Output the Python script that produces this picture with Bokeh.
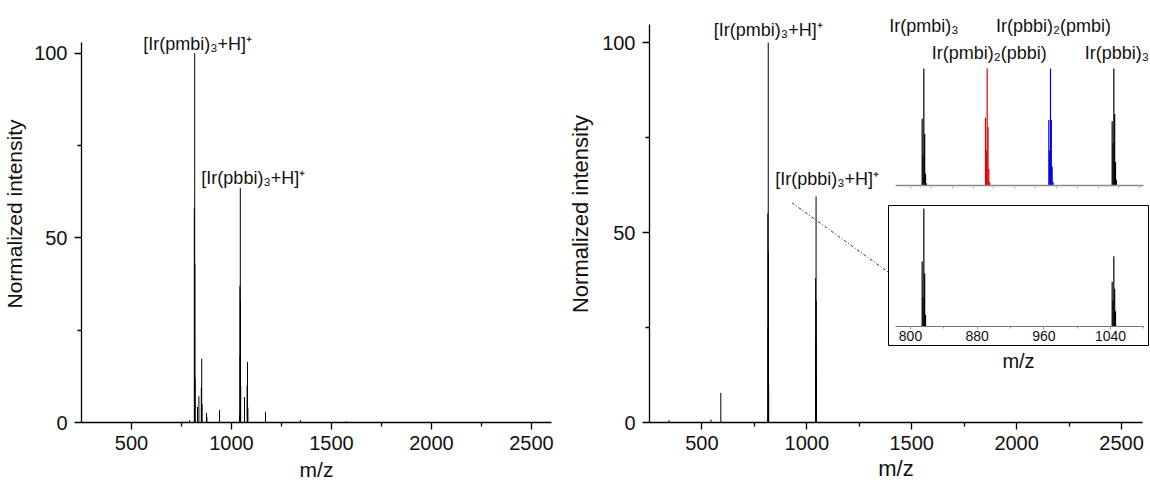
from bokeh.plotting import figure
from bokeh.models import Label, FixedTicker, Range1d, ColumnDataSource, LinearAxis
from bokeh.layouts import row
from bokeh.embed import file_html
from bokeh.resources import INLINE

FONT = "Liberation Sans"

# ---------------- data ----------------
# left spectrum (m/z, normalized intensity)
left_mz = [753, 790, 814, 815, 816, 817, 818, 830, 837, 849, 851, 853, 875, 877,
           940, 1040, 1042, 1043, 1044, 1045, 1046, 1065, 1078, 1080, 1082, 1170, 1345, 1573]
left_int = [0.3, 0.6, 58, 25, 100, 43, 12, 4.2, 7.1, 9.5, 17.3, 5, 2.6, 1.5,
            3.4, 2, 37, 18, 63.5, 33, 10, 6.9, 10, 16.4, 4, 2.9, 0.6, 0.3]

# right spectrum (also shown in the lower inset)
right_mz = [343, 543, 590, 814, 815, 816, 817, 818, 1042, 1043, 1044, 1045, 1046]
right_int = [0.6, 0.8, 7.8, 55, 25, 100, 45, 10, 38, 22, 59.5, 32, 13]

# simulated isotope patterns (upper inset)
sim_pmbi3_mz = [814, 815, 816, 817, 818, 819]
sim_pmbi3_int = [57, 26, 100, 44, 10, 2]
sim_pmbi2pbbi_mz = [890, 891, 892, 893, 894, 895]
sim_pmbi2pbbi_int = [58, 30, 100, 50, 14, 3]
sim_pbbi2pmbi_mz = [966, 967, 968, 969, 970, 971]
sim_pbbi2pmbi_int = [56, 30, 100, 56, 16, 3]
sim_pbbi3_mz = [1042, 1043, 1044, 1045, 1046, 1047]
sim_pbbi3_int = [55, 36, 100, 61, 20, 5]

sim_names = ["Ir(pmbi)₃", "Ir(pmbi)₂(pbbi)", "Ir(pbbi)₂(pmbi)", "Ir(pbbi)₃"]
sim_colors = ["black", "#e00000", "#0000e0", "black"]

left_labels = ["[Ir(pmbi)₃+H]⁺", "[Ir(pbbi)₃+H]⁺"]
left_label_mz = [816, 1044]
left_label_int = [100, 63.5]
right_labels = ["[Ir(pmbi)₃+H]⁺", "[Ir(pbbi)₃+H]⁺"]
right_label_mz = [816, 1044]
right_label_int = [100, 59.5]

main_xticks = [500, 1000, 1500, 2000, 2500]
main_xminor = [750, 1250, 1750, 2250]
main_yticks = [0, 50, 100]
main_yminor = [25, 75]
inset_xticks = [800, 880, 960, 1040]
inset_xminor = [840, 920, 1000, 1080]
inset_top_ticks = [800, 825, 850, 875, 900, 925, 950, 975, 1000, 1025, 1050, 1075]

# zoom guide (dotted connector) in right-plot data coordinates
guide_mz = [930, 1395]
guide_int = [57.8, 39.3]


def sticks(p, mz, inten, color, width=1.0):
    src = ColumnDataSource(dict(x=mz, y0=[0] * len(mz), y1=inten))
    p.segment(x0="x", y0="y0", x1="x", y1="y1", source=src,
              line_color=color, line_width=width)


def style_main(p, tick_fs, label_fs, xlab_standoff, ylab_standoff, ytop):
    p.outline_line_color = None
    p.grid.visible = False
    for ax in (p.xaxis[0], p.yaxis[0]):
        ax.axis_line_color = "black"
        ax.axis_line_width = 1.3
        ax.major_tick_line_color = "black"
        ax.minor_tick_line_color = "black"
        ax.major_tick_line_width = 1.3
        ax.minor_tick_line_width = 1.3
        ax.major_tick_out = 7
        ax.major_tick_in = 0
        ax.minor_tick_out = 4
        ax.minor_tick_in = 0
        ax.major_label_text_font = FONT
        ax.major_label_text_font_size = tick_fs
        ax.major_label_text_color = "#111111"
        ax.axis_label_text_font = FONT
        ax.axis_label_text_font_size = label_fs
        ax.axis_label_text_font_style = "normal"
        ax.axis_label_text_color = "#111111"
    p.xaxis[0].ticker = FixedTicker(ticks=main_xticks, minor_ticks=main_xminor)
    p.yaxis[0].ticker = FixedTicker(ticks=main_yticks, minor_ticks=main_yminor)
    p.yaxis[0].bounds = (0, ytop)
    p.xaxis[0].major_label_standoff = 6
    p.yaxis[0].major_label_standoff = 7
    p.xaxis[0].axis_label_standoff = xlab_standoff
    p.yaxis[0].axis_label_standoff = ylab_standoff


# ---------------- left figure ----------------
left = figure(width=565, height=486, x_range=Range1d(250, 2600), y_range=Range1d(0, 112.9),
              min_border_left=81, min_border_right=14, min_border_top=5, min_border_bottom=64,
              output_backend="svg", toolbar_location=None,
              x_axis_label="m/z", y_axis_label="Normalized intensity")
style_main(left, "20px", "21px", 5, 5, 102.9)
sticks(left, left_mz, left_int, "black", 1.0)
for txt, mx, iy, dx, dy in zip(left_labels, left_label_mz, left_label_int, [3, 13], [9, 10]):
    left.add_layout(Label(x=mx, y=iy, x_offset=dx, y_offset=dy, text=txt,
                          text_align="center", text_baseline="alphabetic",
                          text_font=FONT, text_font_size="18px", text_color="#111111"))

# ---------------- right figure ----------------
right = figure(width=585, height=486, x_range=Range1d(250, 2600), y_range=Range1d(0, 109.75),
               min_border_left=80, min_border_right=8, min_border_top=2, min_border_bottom=63,
               output_backend="svg", toolbar_location=None,
               x_axis_label="m/z", y_axis_label="Normalized intensity")
style_main(right, "20px", "22px", 3, 6, 104.8)
sticks(right, right_mz, right_int, "black", 1.0)
for txt, mx, iy, dx, dy in zip(right_labels, right_label_mz, right_label_int, [0, 11], [13, 17]):
    right.add_layout(Label(x=mx, y=iy, x_offset=dx, y_offset=dy, text=txt,
                           text_align="center", text_baseline="alphabetic",
                           text_font=FONT, text_font_size="18px", text_color="#111111"))
right.line(x=guide_mz, y=guide_int, line_color="#333333", line_width=1, line_dash="3 2 1 2")

# ---------------- upper inset (simulated) ----------------
itop = figure(frame_width=265, frame_height=180, x_range=Range1d(770, 1088), y_range=Range1d(0, 153.8),
              min_border_left=0, min_border_right=0, min_border_top=5, min_border_bottom=15,
              output_backend="svg", toolbar_location=None, y_axis_location=None)
itop.outline_line_color = None
itop.grid.visible = False
itop.background_fill_alpha = 0
itop.border_fill_alpha = 0
ax = itop.xaxis[0]
ax.ticker = FixedTicker(ticks=[], minor_ticks=inset_top_ticks)
ax.bounds = (782, 1080)
ax.axis_line_color = "#8a8a8a"
ax.axis_line_width = 1.5
ax.minor_tick_line_color = "#b0b0b0"
ax.minor_tick_out = 3
ax.minor_tick_in = 0
ax.major_tick_line_color = None
sim_sets = [(sim_pmbi3_mz, sim_pmbi3_int), (sim_pmbi2pbbi_mz, sim_pmbi2pbbi_int),
            (sim_pbbi2pmbi_mz, sim_pbbi2pmbi_int), (sim_pbbi3_mz, sim_pbbi3_int)]
label_dx = [0, 2, 3, 3]
label_dy = [42, 15, 42, 15]
for (mz, it), col, name, dx, dy in zip(sim_sets, sim_colors, sim_names, label_dx, label_dy):
    sticks(itop, mz, it, col, 1.2)
    itop.add_layout(Label(x=mz[it.index(max(it))], y=max(it), x_offset=dx, y_offset=dy, text=name,
                          text_align="center", text_baseline="alphabetic",
                          text_font=FONT, text_font_size="18px", text_color="#111111"))

# ---------------- lower inset (experimental zoom) ----------------
ibot = figure(frame_width=260, frame_height=140, x_range=Range1d(773.6, 1085.6), y_range=Range1d(-16.1, 102.5),
              min_border_left=2, min_border_right=2, min_border_top=2, min_border_bottom=30,
              output_backend="svg", toolbar_location=None, y_axis_location=None)
ibot.outline_line_color = "black"
ibot.outline_line_width = 1
ibot.grid.visible = False
ibot.background_fill_color = "white"
ibot.border_fill_alpha = 0
bx = ibot.xaxis[0]
bx.fixed_location = 0
bx.bounds = (782, 1080)
bx.ticker = FixedTicker(ticks=inset_xticks, minor_ticks=inset_xminor)
bx.axis_line_color = "#777777"
bx.axis_line_width = 1.2
bx.major_tick_line_color = "#999999"
bx.minor_tick_line_color = "#999999"
bx.major_tick_out = 3
bx.major_tick_in = 0
bx.minor_tick_out = 2
bx.minor_tick_in = 0
bx.major_label_text_font = FONT
bx.major_label_text_font_size = "14px"
bx.major_label_text_color = "#111111"
bx.major_label_standoff = 2
# axis carrying only the "m/z" title below the inset box
lab_ax = LinearAxis(ticker=FixedTicker(ticks=[]), axis_label="m/z",
                    axis_line_color=None, major_tick_line_color=None, minor_tick_line_color=None,
                    axis_label_text_font=FONT, axis_label_text_font_size="20px",
                    axis_label_text_font_style="normal", axis_label_text_color="#111111",
                    axis_label_standoff=4, major_label_standoff=0,
                    major_tick_out=0, minor_tick_out=0, major_tick_in=0, minor_tick_in=0)
ibot.add_layout(lab_ax, "below")
sticks(ibot, right_mz, right_int, "black", 1.2)

# ---------------- layout (insets overlap the right plot) ----------------
itop.styles = {"position": "absolute", "left": "885px", "top": "0px"}
ibot.styles = {"position": "absolute", "left": "886px", "top": "200px"}
page = row(left, right, itop, ibot, spacing=0)

open("out.html", "w").write(file_html(page, INLINE))
